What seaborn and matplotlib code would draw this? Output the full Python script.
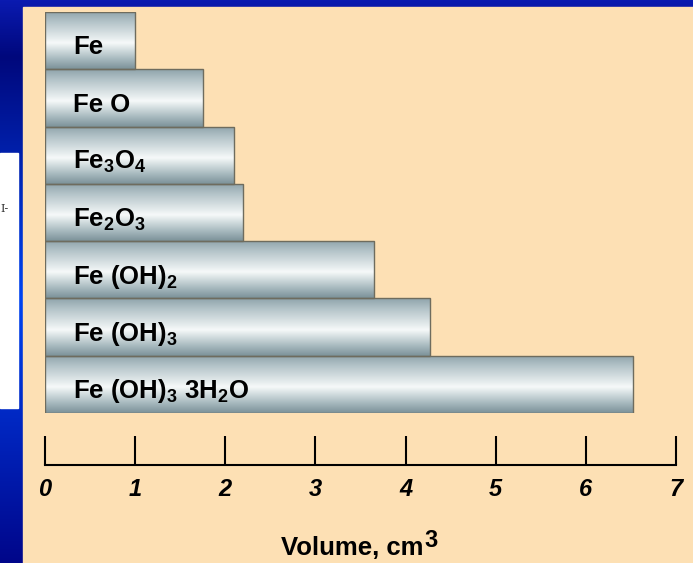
import numpy as np
import matplotlib
matplotlib.use('Agg')
import matplotlib.pyplot as plt
from matplotlib.colors import LinearSegmentedColormap
from matplotlib.patches import Rectangle
import seaborn as sns

compounds = ['Fe', 'FeO', 'Fe3O4', 'Fe2O3', 'Fe(OH)2', 'Fe(OH)3', 'Fe(OH)3 3H2O']
labels = ['Fe', 'Fe O', r'Fe$_\mathbf{3}$O$_\mathbf{4}$', r'Fe$_\mathbf{2}$O$_\mathbf{3}$',
          r'Fe (OH)$_\mathbf{2}$', r'Fe (OH)$_\mathbf{3}$', r'Fe (OH)$_\mathbf{3}$ 3H$_\mathbf{2}$O']
volumes = [1.0, 1.75, 2.1, 2.2, 3.65, 4.27, 6.52]
ticks = [0, 1, 2, 3, 4, 5, 6, 7]

sns.set_theme(style='white')
plt.rcParams['font.family'] = ['Liberation Sans', 'DejaVu Sans']
plt.rcParams['mathtext.fontset'] = 'custom'
plt.rcParams['mathtext.bf'] = 'Liberation Sans:bold'
plt.rcParams['mathtext.rm'] = 'Liberation Sans'
plt.rcParams['text.color'] = 'black'
plt.rcParams['xtick.color'] = 'black'
plt.rcParams['xtick.labelcolor'] = 'black'

W, H = 693, 563
fig = plt.figure(figsize=(W / 100, H / 100), dpi=100)

# slide background: blue gradient, peach panel, stray white box
bg = fig.add_axes([0, 0, 1, 1])
blue = LinearSegmentedColormap.from_list('blue', [(0, '#0a1ab0'), (0.1, '#00087c'),
                                                   (0.53, '#0044f2'), (1, '#00068a')])
bg.imshow(np.linspace(0, 1, 256)[:, None], cmap=blue, aspect='auto', extent=[0, 1, 0, 1])
bg.add_patch(Rectangle((23 / W, 0), 1, 1 - 7 / H, color='#fde0b4', zorder=2))
bg.add_patch(Rectangle((0, 1 - 408 / H), 18 / W, 255 / H, color='white', zorder=2))
bg.text(0, 1 - 212 / H, 'I-', family='DejaVu Serif', fontsize=8, color='#333333', zorder=3)
bg.set_xlim(0, 1)
bg.set_ylim(0, 1)
bg.axis('off')

# bars
ax = fig.add_axes([45 / W, 1 - 413 / H, 631 / W, 401 / H])
sns.barplot(x=volumes, y=compounds, orient='h', width=1.0, color='#b0c0c6',
            saturation=1, edgecolor='#6e6c5e', linewidth=1.0, ax=ax)
ax.set_xlim(0, 7)
ax.set_ylim(len(compounds) - 0.5, -0.5)
ax.axis('off')

# metallic shading clipped to each bar
metal = LinearSegmentedColormap.from_list('metal', [(0, '#8fa4ab'), (0.18, '#b3c3c8'),
                                                    (0.55, '#f6f9f9'), (0.82, '#a9bbc0'),
                                                    (1, '#7c9299')])
grad = np.linspace(0, 1, 128)[:, None]
for p in ax.patches:
    bb = p.get_bbox()
    im = ax.imshow(grad, cmap=metal, aspect='auto', zorder=2,
                   extent=[bb.x0, bb.x1, bb.y1, bb.y0])
    im.set_clip_path(p)
    p.set_facecolor('none')
    p.set_zorder(3)

for i, lab in enumerate(labels):
    ax.text(0.31, i + 0.24, lab, fontsize=18.5, fontweight='bold', color='black',
            va='baseline', ha='left', zorder=4)

# scale axis
sx = fig.add_axes([45 / W, 1 - 465 / H, 631 / W, 0.05])
sx.set_facecolor('none')
sx.set_xlim(0, 7)
sx.set_xticks(ticks)
sx.set_yticks([])
for s in ['top', 'left', 'right']:
    sx.spines[s].set_visible(False)
sx.spines['bottom'].set_color('black')
sx.spines['bottom'].set_linewidth(1.5)
sx.tick_params(axis='x', direction='in', length=21, width=1.5, color='black',
               labelcolor='black', labelsize=17, pad=9, bottom=True)
for t in sx.get_xticklabels():
    t.set_fontweight('bold')
    t.set_fontstyle('italic')

# axis title with a full-size superscript
xl = fig.text(352 / W, 1 - 555 / H, 'Volume, cm', fontsize=18.5, fontweight='bold',
              ha='center', va='baseline', color='black')
fig.add_artist(plt.Annotation('3', xy=(1, 0), xycoords=xl, xytext=(1, 9.5),
                              textcoords='offset points', fontsize=17, fontweight='bold',
                              color='black', va='baseline', ha='left'))

fig.savefig('out.png', dpi=100)
